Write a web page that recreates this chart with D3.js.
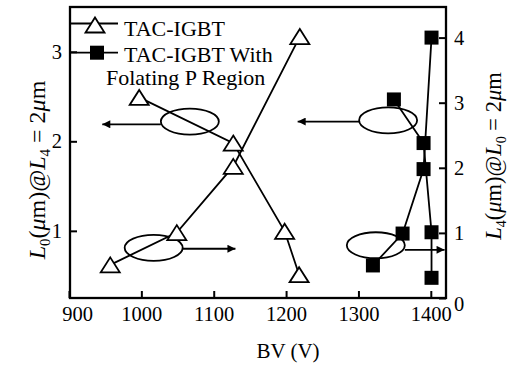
<!DOCTYPE html>
<html>
<head>
<meta charset="utf-8">
<script src="https://cdn.jsdelivr.net/npm/d3@7"></script>
<style>
  html, body { margin: 0; padding: 0; background: #fff; }
  svg { display: block; font-family: "Liberation Serif", "Times New Roman", serif; }
</style>
</head>
<body>
<svg id="canvas" width="508" height="365"></svg>
<script>
'use strict';

/* values */
const bvTicks = [900, 1000, 1100, 1200, 1300, 1400];
const leftTicks = [1, 2, 3];
const rightTicks = [0, 1, 2, 3, 4];

// TAC-IGBT, L0 (left axis)
const triUpBV = [957, 1049, 1127, 1219];
const triUpL0 = [0.62, 0.98, 1.72, 3.17];
const triDownBV = [997, 1127, 1198, 1218];
const triDownL0 = [2.49, 1.98, 0.995, 0.51];

// TAC-IGBT with floating P region, L4 (right axis)
const sqUpBV = [1320, 1361, 1390, 1401];
const sqUpL4 = [0.50, 0.99, 1.98, 4.0];
const sqDownBV = [1349, 1390, 1401, 1401];
const sqDownL4 = [3.05, 2.38, 1.01, 0.31];

// ellipse + arrow annotations: centre, arrow end, which axis they refer to
const noteBV = [1067, 1017, 1341, 1324];
const noteY = [2.22, 0.81, 2.73, 0.81];
const noteArrowBV = [946, 1130, 1216, 1419];
const noteArrowY = [2.19, 0.80, 2.71, 0.74];
const noteAxis = ['L', 'L', 'R', 'R'];

const legendLabels = ['TAC-IGBT', 'TAC-IGBT With', 'Folating P Region'];

/* drawing area */
const margin = {top: 7, right: 62, bottom: 67, left: 70};
const width = 508, height = 365;

const svg = d3.select('svg#canvas');

const x = d3.scaleLinear().domain([900, 1421]).range([69, width - margin.right]);
const yL = d3.scaleLinear().domain([0.25, 3.5]).range([height - margin.bottom, margin.top]);
const yR = d3.scaleLinear().domain([0, 4.47]).range([height - margin.bottom, margin.top]);

/* arrow head marker */
svg.append('defs').append('marker')
  .attr('id', 'arrow')
  .attr('viewBox', '0 0 10 10')
  .attr('refX', 10).attr('refY', 5)
  .attr('markerUnits', 'userSpaceOnUse')
  .attr('markerWidth', 9).attr('markerHeight', 8)
  .attr('orient', 'auto')
  .append('path')
    .attr('d', 'M0,0 L10,5 L0,10 Z')
    .attr('fill', '#000');

/* axes, ticks point inwards */
const fmt = d3.format('d');
const styleAxis = g => {
  g.attr('font-family', null).attr('font-size', null);
  g.select('.domain').remove();
  g.selectAll('.tick line').attr('stroke', '#000').attr('stroke-width', 2);
  g.selectAll('.tick text')
    .attr('fill', '#000')
    .style('font-size', '20.5px');
};

const gx = svg.append('g')
  .attr('transform', 'translate(0,' + (height - margin.bottom) + ')')
  .call(d3.axisBottom(x).tickValues(bvTicks).tickFormat(fmt)
    .tickSizeInner(-7).tickSizeOuter(0).tickPadding(8))
  .call(styleAxis);
gx.selectAll('.tick text').filter(d => d === 900).attr('dx', 8);

svg.append('g')
  .attr('transform', 'translate(' + margin.left + ',0)')
  .call(d3.axisLeft(yL).tickValues(leftTicks).tickFormat(fmt)
    .tickSizeInner(-7).tickSizeOuter(0).tickPadding(8))
  .call(styleAxis);

const gr = svg.append('g')
  .attr('transform', 'translate(' + (width - margin.right) + ',0)')
  .call(d3.axisRight(yR).tickValues(rightTicks).tickFormat(fmt)
    .tickSizeInner(-7).tickSizeOuter(0).tickPadding(8))
  .call(styleAxis);
gr.selectAll('.tick text').filter(d => d === 0).attr('dy', '0.62em');

/* frame */
svg.append('rect')
  .attr('x', margin.left).attr('y', margin.top)
  .attr('width', width - margin.right - margin.left)
  .attr('height', height - margin.bottom - margin.top)
  .attr('fill', 'none').attr('stroke', '#000').attr('stroke-width', 2.3);

/* annotations: ellipses and arrows */
noteBV.forEach((bv, i) => {
  const ys = noteAxis[i] === 'L' ? yL : yR;
  const cx = x(bv), cy = ys(noteY[i]);
  const rx = 29, ry = 13;
  const ay = ys(noteArrowY[i]);
  const tx = x(noteArrowBV[i]);
  const sx = tx < cx ? cx - rx : cx + rx;
  svg.append('line')
    .attr('x1', sx).attr('y1', ay).attr('x2', tx).attr('y2', ay)
    .attr('stroke', '#000').attr('stroke-width', 1.8)
    .attr('marker-end', 'url(#arrow)');
  svg.append('ellipse')
    .attr('cx', cx).attr('cy', cy).attr('rx', rx).attr('ry', ry)
    .attr('fill', 'none').attr('stroke', '#000').attr('stroke-width', 1.8);
});

/* data lines */
const lineL = d3.line().x(d => x(d[0])).y(d => yL(d[1]));
const lineR = d3.line().x(d => x(d[0])).y(d => yR(d[1]));
const zip = (a, b) => a.map((v, i) => [v, b[i]]);

const triSeries = [zip(triUpBV, triUpL0), zip(triDownBV, triDownL0)];
const sqSeries = [zip(sqUpBV, sqUpL4), zip(sqDownBV, sqDownL4)];

triSeries.forEach(s => svg.append('path').attr('d', lineL(s))
  .attr('fill', 'none').attr('stroke', '#000').attr('stroke-width', 1.8));
sqSeries.forEach(s => svg.append('path').attr('d', lineR(s))
  .attr('fill', 'none').attr('stroke', '#000').attr('stroke-width', 1.8));

/* markers */
const triPath = 'M0,-7.5 L9.5,7.5 L-9.5,7.5 Z';
const drawTri = (cx, cy) => svg.append('path')
  .attr('d', triPath).attr('transform', 'translate(' + cx + ',' + cy + ')')
  .attr('fill', '#fff').attr('stroke', '#000').attr('stroke-width', 1.8);
const drawSq = (cx, cy) => svg.append('rect')
  .attr('x', cx - 7).attr('y', cy - 7).attr('width', 14).attr('height', 14)
  .attr('fill', '#000');

triSeries.flat().forEach(d => drawTri(x(d[0]), yL(d[1])));
sqSeries.flat().forEach(d => drawSq(x(d[0]), yR(d[1])));

/* legend */
const legend = svg.append('g');
legend.append('line').attr('x1', 70).attr('x2', 118).attr('y1', 23.5).attr('y2', 23.5)
  .attr('stroke', '#000').attr('stroke-width', 1.8);
legend.append('path').attr('d', triPath).attr('transform', 'translate(95,25)')
  .attr('fill', '#fff').attr('stroke', '#000').attr('stroke-width', 1.8);
legend.append('line').attr('x1', 70).attr('x2', 118).attr('y1', 52.7).attr('y2', 52.7)
  .attr('stroke', '#000').attr('stroke-width', 1.8);
legend.append('rect').attr('x', 90).attr('y', 45.7).attr('width', 14).attr('height', 14).attr('fill', '#000');
const legendPos = [[124, 36], [124, 61.5], [106, 85]];
legendLabels.forEach((t, i) => legend.append('text')
  .attr('x', legendPos[i][0]).attr('y', legendPos[i][1])
  .style('font-size', '22px').text(t));

/* axis titles */
svg.append('text')
  .attr('x', 288).attr('y', 358)
  .attr('text-anchor', 'middle')
  .style('font-size', '21px')
  .text('BV (V)');

function yTitle(cx, cy, size, a, b) {
  const t = svg.append('text')
    .attr('transform', 'translate(' + cx + ',' + cy + ') rotate(-90)')
    .attr('text-anchor', 'middle')
    .style('font-size', size + 'px');
  const sub = size * 0.62;
  t.append('tspan').style('font-style', 'italic').text('L');
  t.append('tspan').attr('dy', size * 0.22).style('font-size', sub + 'px').text(a);
  t.append('tspan').attr('dy', -size * 0.22).text('(');
  t.append('tspan').style('font-style', 'italic').text('\u03bc');
  t.append('tspan').text('m)@');
  t.append('tspan').style('font-style', 'italic').text('L');
  t.append('tspan').attr('dy', size * 0.22).style('font-size', sub + 'px').text(b);
  t.append('tspan').attr('dy', -size * 0.22).text(' = 2');
  t.append('tspan').style('font-style', 'italic').text('\u03bc');
  t.append('tspan').text('m');
}
yTitle(45, 170, 24, '0', '4');
yTitle(501, 156, 22.5, '4', '0');
</script>
</body>
</html>
